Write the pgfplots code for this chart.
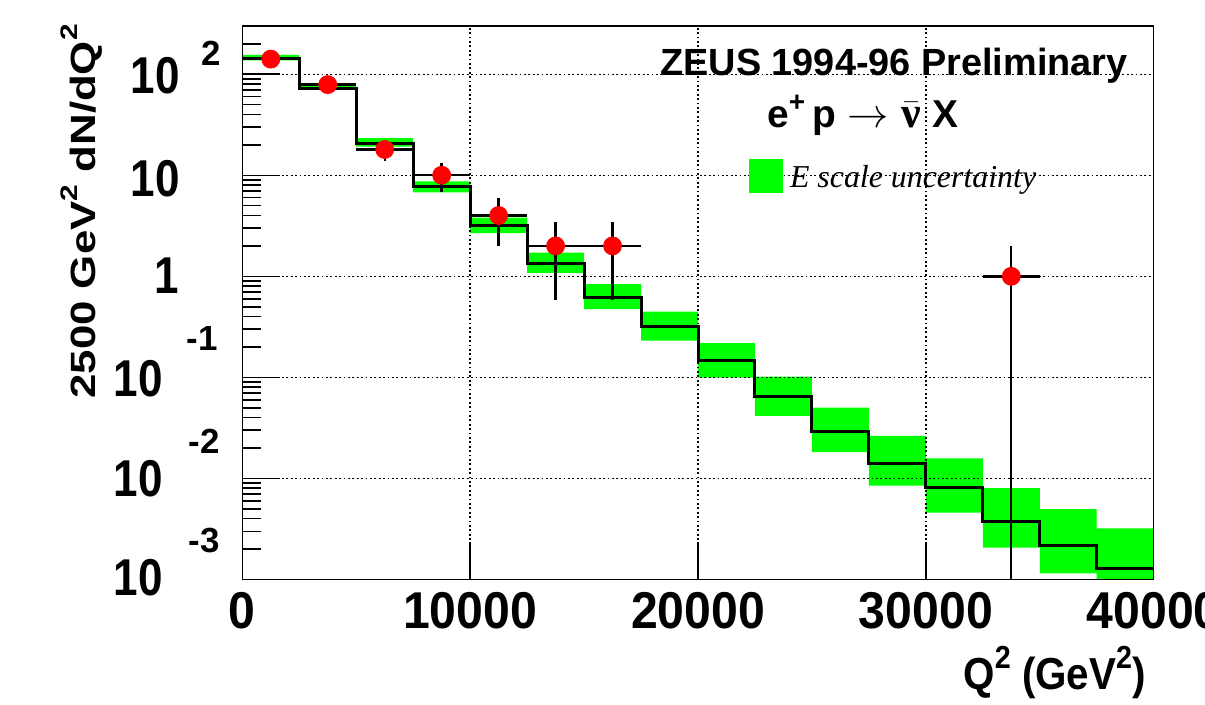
\documentclass[border=0pt]{standalone}
\usepackage{fontspec}
\setmainfont{Liberation Sans}
\newfontfamily\lserif{Liberation Serif}
\newfontfamily\condX{Liberation Sans}[FakeStretch=0.93]
\newfontfamily\condY{Liberation Sans}[FakeStretch=0.85]
\newfontfamily\condL{Liberation Sans}[FakeStretch=0.9]
\usepackage{graphicx}
\usepackage{pgfplots}
\usepackage{pgfplotstable}
\pgfplotsset{compat=1.18}
\definecolor{rootgreen}{RGB}{0,255,0}

% Monte Carlo histogram (bin lower edges, last row repeats)
\pgfplotstableread{
x      hist
0      142
2500   73
5000   20.4
7500   7.74
10000  3.16
12500  1.35
15000  0.617
17500  0.318
20000  0.1466
22500  0.0646
25000  0.029
27500  0.0141
30000  0.00811
32500  0.00373
35000  0.00216
37500  0.00129
40000  0.00129
}\histtab

% energy-scale band: one rectangle per bin (x, y), rows of nan separate bins
\pgfplotstableread{
x      y
0      137
2500   137
2500   155
0      155
nan    nan
2500   70
5000   70
5000   80.5
2500   80.5
nan    nan
5000   19.2
7500   19.2
7500   23.3
5000   23.3
nan    nan
7500   6.76
10000  6.76
10000  8.7
7500   8.7
nan    nan
10000  2.68
12500  2.68
12500  3.82
10000  3.82
nan    nan
12500  1.08
15000  1.08
15000  1.72
12500  1.72
nan    nan
15000  0.473
17500  0.473
17500  0.837
15000  0.837
nan    nan
17500  0.231
20000  0.231
20000  0.448
17500  0.448
nan    nan
20000  0.0995
22500  0.0995
22500  0.218
20000  0.218
nan    nan
22500  0.0416
25000  0.0416
25000  0.102
22500  0.102
nan    nan
25000  0.0182
27500  0.0182
27500  0.0502
25000  0.0502
nan    nan
27500  0.0085
30000  0.0085
30000  0.0264
27500  0.0264
nan    nan
30000  0.00458
32500  0.00458
32500  0.0158
30000  0.0158
nan    nan
32500  0.00207
35000  0.00207
35000  0.0080
32500  0.0080
nan    nan
35000  0.00115
37500  0.00115
37500  0.00496
35000  0.00496
nan    nan
37500  0.0006
40000  0.0006
40000  0.00321
37500  0.00321
}\bandtab

% ZEUS data points
\pgfplotstableread{
x      y    ex    eyp    eym
1250   141  1250  11.9   11.9
3750   79   1250  8.9    8.9
6250   18   1250  4.24   4.24
8750   10   1250  3.16   3.16
11250  4    1250  2      2
13750  2    1250  1.414  1.414
16250  2    1250  1.414  1.414
33750  1    1250  1      0.9999
}\datatab

\begin{document}
\begin{tikzpicture}
\useasboundingbox (0,0) rectangle (602.5bp,-352.5bp);
\begin{axis}[
  at={(121.15bp,-289.75bp)}, anchor=south west,
  width=455.7bp, height=276.75bp, scale only axis,
  xmin=0, xmax=40000,
  ymode=log, log basis y=10, ymin=0.001, ymax=300,
  axis on top,
  axis line style={black, line width=0.75bp},
  scaled x ticks=false,
  xtick={0,10000,20000,30000,40000},
  xticklabels={0,10000,20000,30000,40000},
  minor xtick={},
  ytick={0.001,0.01,0.1,1,10,100},
  yticklabels={,,,,,},
  minor ytick={0.002,0.003,0.004,0.005,0.006,0.007,0.008,0.009,
               0.02,0.03,0.04,0.05,0.06,0.07,0.08,0.09,
               0.2,0.3,0.4,0.5,0.6,0.7,0.8,0.9,
               2,3,4,5,6,7,8,9,20,30,40,50,60,70,80,90,200,300},
  xtick pos=bottom, ytick pos=left, tick align=inside,
  major tick length=19bp, minor tick length=9.5bp,
  every tick/.style={black, line width=0.75bp},
  grid=major,
  major grid style={black, line width=0.7bp, dash pattern=on 0.9bp off 1.3bp},
  xticklabel style={font=\fontsize{26}{26}\selectfont\condX\bfseries, anchor=north, inner sep=0pt, yshift=-6.4bp},
  xlabel={Q\raisebox{0.48em}{\fontsize{16}{16}\selectfont 2} (GeV\raisebox{0.48em}{\fontsize{16}{16}\selectfont 2})},
  xlabel style={font=\fontsize{22.5}{22.5}\selectfont\condL\bfseries, at={(axis description cs:0.9916,-0.1996)}, anchor=base east, inner sep=0pt},
  ylabel={\scalebox{1}[0.8]{2500 GeV\raisebox{0.5em}{\fontsize{15}{15}\selectfont 2} dN/dQ\raisebox{0.5em}{\fontsize{15}{15}\selectfont 2}}},
  ylabel style={font=\fontsize{22}{22}\selectfont\bfseries, at={(axis description cs:-0.1616,0.6649)}, anchor=base, inner sep=0pt},
  legend style={at={(axis description cs:0.556,0.729)}, anchor=west, draw=none, fill=none,
     inner sep=0pt, outer sep=0pt, nodes={inner sep=0pt, text depth=0pt},
     font=\lserif\itshape\fontsize{16}{16}\selectfont,
     /tikz/every odd column/.append style={column sep=3.5bp}},
  legend cell align=left,
]
\addplot[fill=rootgreen, draw=none, unbounded coords=jump,
  legend image code/.code={\fill[rootgreen] (0bp,-8.5bp) rectangle (17bp,8.5bp);}]
  table[x=x, y=y] {\bandtab};
\addlegendentry{E scale uncertainty}

\addplot[black, line width=1.5bp, const plot, forget plot] table[x=x, y=hist] {\histtab};

\addplot[only marks, mark=*, mark size=4.5bp,
  mark options={fill=red, draw=red}, forget plot,
  error bars/.cd, x dir=both, x explicit, y dir=both, y explicit,
  error mark=none, error bar style={black, line width=1.2bp}]
  table[x=x, y=y, x error=ex, y error plus=eyp, y error minus=eym] {\datatab};
\end{axis}

\begin{scope}[x=0.5bp, y=-0.5bp]
% y tick labels (ROOT style powers of ten)
\begin{scope}[every node/.style={inner sep=0pt, font=\fontsize{26}{26}\selectfont\condY\bfseries}]
\node[anchor=east] at (180,75.3) {10};
\node[anchor=east] at (180,178.4) {10};
\node[anchor=east] at (179,275.5) {1};
\node[anchor=east] at (163,378.5) {10};
\node[anchor=east] at (163,478.5) {10};
\node[anchor=east] at (163,578) {10};
\end{scope}
\begin{scope}[every node/.style={inner sep=0pt, font=\fontsize{17.5}{17.5}\selectfont\bfseries}]
\node at (211,53.5) {2};
\node at (202,339) {-1};
\node at (204.5,441) {-2};
\node at (204.5,541) {-3};
\end{scope}
% texts
\node[anchor=base east, inner sep=0pt, font=\fontsize{19}{19}\selectfont\bfseries] at (1128,76) {ZEUS 1994-96 Preliminary};
\node[anchor=base west, inner sep=0pt, font=\fontsize{19.5}{19.5}\selectfont\bfseries] at (767,128)
  {e\raisebox{0.42em}{\fontsize{14}{14}\selectfont +}\hspace{3.5bp}p\hspace{5.5bp}$\rightarrow$\hspace{6.5bp}$\bar{\hbox{\lserif\fontsize{22}{22}\selectfont ν}}$\hspace{6bp}X};
\end{scope}
\end{tikzpicture}
\end{document}
